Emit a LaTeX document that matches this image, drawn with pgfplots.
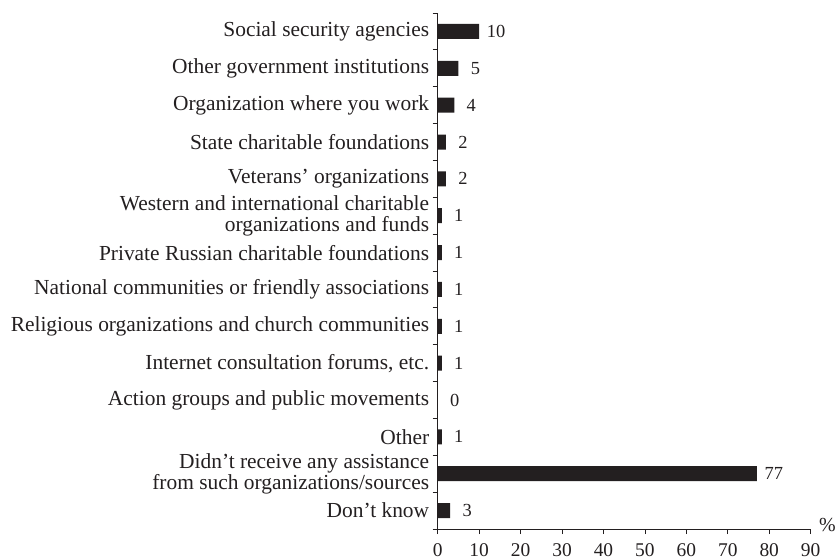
\documentclass[border=0pt]{standalone}
\usepackage{fontspec}
\setmainfont{Liberation Serif}
\usepackage{pgfplots}
\pgfplotsset{compat=1.18}
\definecolor{ink}{RGB}{35,31,32}
\begin{document}
\begin{tikzpicture}
\begin{axis}[
  at={(0,0)}, anchor=south west,
  scale only axis,
  width=373bp, height=516bp,
  xbar, bar width=15bp,
  xmin=0, xmax=90,
  ymin=-0.5, ymax=13.5,
  y dir=reverse,
  axis x line*=bottom, axis y line*=left,
  axis line style={ink, line width=0.8pt},
  xtick={0,10,...,90},
  ytick={0,...,13},
  minor ytick={-0.5,0.5,...,13.5},
  tick align=outside,
  major tick length=5bp, minor tick length=5bp,
  tick style={ink, line width=0.8pt},
  every major y tick/.append style={draw=none},
  yticklabels={
    Social security agencies,
    Other government institutions,
    Organization where you work,
    State charitable foundations,
    Veterans’ organizations,
    {Western and international charitable\\organizations and funds},
    Private Russian charitable foundations,
    National communities or friendly associations,
    Religious organizations and church communities,
    {Internet consultation forums, etc.},
    Action groups and public movements,
    Other,
    {Didn’t receive any assistance\\from such organizations/sources},
    Don’t know},
  yticklabel style={align=right, font=\fontsize{21.5}{20.5}\selectfont, text=ink},
  xticklabel style={font=\fontsize{19.5}{20}\selectfont, text=ink, yshift=-6bp},
  /pgf/number format/assume math mode=true,
  nodes near coords,
  every node near coord/.append style={anchor=center, xshift=17bp, font=\fontsize{18.5}{20}\selectfont, text=ink},
  clip=false,
]
\addplot[fill=ink, draw=none] coordinates {
  (10,0) (5,1) (4,2) (2,3) (2,4) (1,5) (1,6) (1,7) (1,8) (1,9) (0,10) (1,11) (77,12) (3,13)
};
\node[anchor=west, font=\fontsize{20}{22}\selectfont, text=ink] at ([xshift=5bp, yshift=4bp]axis cs:90,13.5) {\%};
\end{axis}
\pgfresetboundingbox
\path (-437.7bp,-31bp) rectangle (400.3bp,529bp);
\end{tikzpicture}
\end{document}
